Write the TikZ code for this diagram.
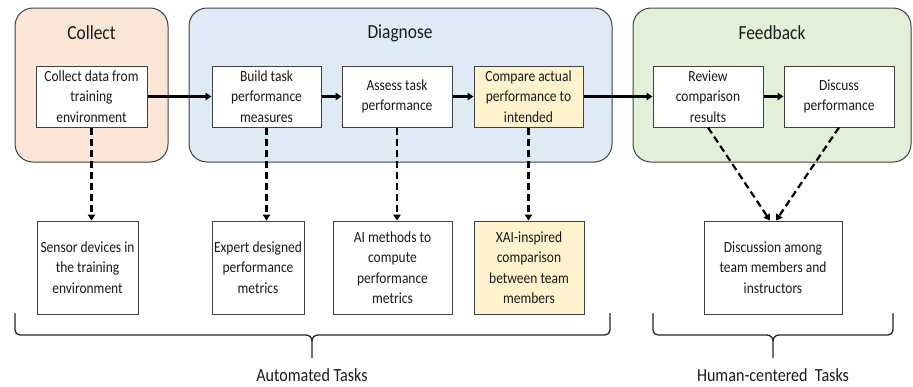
\documentclass[tikz,border=0pt]{standalone}
\usepackage{fontspec}
\setmainfont[FakeStretch=0.87]{Carlito}
\usetikzlibrary{arrows.meta}

\definecolor{txt}{HTML}{1A1A1A}
\definecolor{edge}{HTML}{404040}
\definecolor{peach}{HTML}{FBE5D6}
\definecolor{skyfill}{HTML}{DEEBF7}
\definecolor{sagefill}{HTML}{E2F0D9}
\definecolor{cream}{HTML}{FFF2CC}

\tikzset{
  panel/.style={draw=edge, line width=1pt, rounded corners=18pt},
  paneltitle/.style={font=\fontsize{20}{24}\selectfont, text=txt},
  task/.style={draw=edge, line width=1pt, fill=white, align=center,
    inner sep=0pt, minimum height=61pt,
    font=\fontsize{15.5}{20.5}\selectfont, text=txt},
  detail/.style={task, minimum height=93pt},
  flow/.style={line width=2.2pt, -{Triangle[length=6pt,width=7.5pt]}},
  dashflow/.style={line width=2.2pt, dash pattern=on 7pt off 4pt,
    -{Triangle[length=6pt,width=7.5pt]}},
  bracket/.style={line width=1.3pt, black!85},
  grouplabel/.style={font=\fontsize{18.5}{22}\selectfont, text=txt, anchor=base}
}

\begin{document}
\begin{tikzpicture}[x=1pt, y=-1pt]
  \useasboundingbox (0,0) rectangle (913,386);

  % phase panels
  \draw[panel, fill=peach]    (15,8)  rectangle (168,162);
  \draw[panel, fill=skyfill]  (189,8) rectangle (612,162);
  \draw[panel, fill=sagefill] (633,8) rectangle (911,162);

  \node[paneltitle] (tcollect)  at (91.5,33) {Collect};
  \node[paneltitle] (tdiagnose) at (400,33)  {Diagnose};
  \node[paneltitle] (tfeedback) at (772,33)  {Feedback};

  % main process steps
  \node[task, minimum width=111pt] (collect) at (91.5,96.5)  {Collect data from\\training\\environment};
  \node[task, minimum width=109pt] (build)   at (266.5,96.5) {Build task\\performance\\measures};
  \node[task, minimum width=110pt] (assess)  at (397,96.5)   {Assess task\\performance};
  \node[task, minimum width=109pt, fill=cream] (compare) at (528.5,96.5) {Compare actual\\performance to\\intended};
  \node[task, minimum width=110pt] (review)  at (708,96.5)   {Review\\comparison\\results};
  \node[task, minimum width=110pt] (discuss) at (839,96.5)   {Discuss\\performance};

  % supporting details
  \node[detail, minimum width=101pt] (sensor) at (87.5,267.5) {Sensor devices in\\the training\\environment};
  \node[detail, minimum width=92pt]  (expert) at (258,267.5)  {Expert designed\\performance\\metrics};
  \node[detail, minimum width=119pt] (aimeth) at (392.5,267.5) {AI methods to\\compute\\performance\\metrics};
  \node[detail, minimum width=110pt, fill=cream] (xai) at (529,267.5) {XAI-inspired\\comparison\\between team\\members};
  \node[detail, minimum width=138pt] (discussion) at (773,267.5) {Discussion among\\team members and\\instructors};

  % process flow
  \draw[flow] (collect) -- (build);
  \draw[flow] (build)   -- (assess);
  \draw[flow] (assess)  -- (compare);
  \draw[flow] (compare) -- (review);
  \draw[flow] (review)  -- (discuss);

  % links to details
  \draw[dashflow] (collect.south) -- (collect.south |- sensor.north);
  \draw[dashflow] (build.south)   -- (build.south |- expert.north);
  \draw[dashflow] (assess.south)  -- (assess.south |- aimeth.north);
  \draw[dashflow] (compare.south) -- (compare.south |- xai.north);
  \draw[dashflow] (review.south)  -- ([xshift=-3pt]discussion.north);
  \draw[dashflow] (discuss.south) -- ([xshift=3pt]discussion.north);

  % grouping brackets
  \draw[bracket] (15,313) -- (15,330) to[out=-90,in=180] (20,335)
    -- (306,335) to[out=0,in=90] (312,341) -- (312,358);
  \draw[bracket] (312,341) to[out=90,in=180] (318,335)
    -- (605,335) to[out=0,in=-90] (610,330) -- (610,313);
  \draw[bracket] (653,313) -- (653,330) to[out=-90,in=180] (658,335)
    -- (767,335) to[out=0,in=90] (773,341) -- (773,358);
  \draw[bracket] (773,341) to[out=90,in=180] (779,335)
    -- (888,335) to[out=0,in=-90] (893,330) -- (893,313);

  \node[grouplabel] (auto)  at (312,381) {Automated Tasks};
  \node[grouplabel] (human) at (773,381) {Human-centered\ \ Tasks};
\end{tikzpicture}
\end{document}
